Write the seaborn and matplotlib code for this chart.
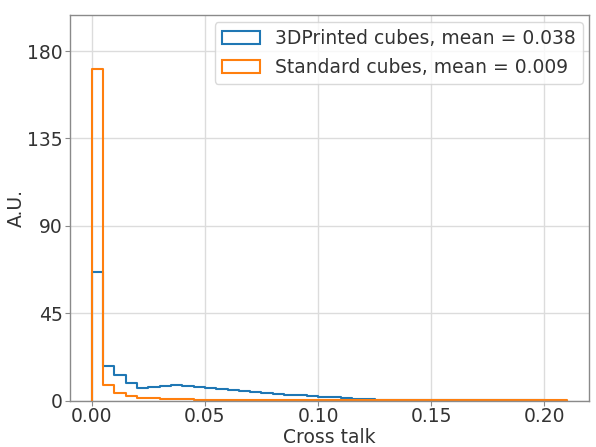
import numpy as np
import pandas as pd
import seaborn as sns
import matplotlib
matplotlib.use("Agg")
import matplotlib.pyplot as plt
from matplotlib.patches import Patch

# Histogram bins: width 0.005 from 0 to 0.21
bin_width = 0.005
bin_range = (0.0, 0.21)

# Normalised bin heights (A.U.) for each cube type
printed_heights = [
    66, 18, 13, 9, 6.5, 7, 7.5, 8, 7.5, 7,
    6.5, 6, 5.5, 5, 4.5, 4, 3.5, 3, 2.8, 2.4,
    2, 1.6, 1.3, 1, 0.8, 0.3, 0.25, 0.2, 0.2, 0.15,
    0.15, 0.1, 0.1, 0.1, 0.05, 0.05, 0.05, 0.05, 0.05, 0.05,
    0.0, 0.0,
]
standard_heights = [
    171, 8, 4, 2.5, 1.5, 1.2, 0.9, 0.7, 0.6, 0.5,
    0.4, 0.35, 0.3, 0.3, 0.25, 0.2, 0.2, 0.15, 0.15, 0.1,
    0.1, 0.1, 0.08, 0.08, 0.06, 0.05, 0.05, 0.05, 0.04, 0.04,
    0.03, 0.03, 0.03, 0.02, 0.02, 0.02, 0.02, 0.02, 0.01, 0.01,
    0.01, 0.01,
]
series_labels = ["3DPrinted cubes, mean = 0.038", "Standard cubes, mean = 0.009"]
series_colors = ["#1f77b4", "#ff7f0e"]

y_ticks = [0, 45, 90, 135, 180]
x_ticks = [0.0, 0.05, 0.10, 0.15, 0.20]

FS = 13.5

sns.set_theme(style="whitegrid", rc={
    "axes.edgecolor": "#8a8a8a",
    "grid.color": "#dcdcdc",
    "xtick.bottom": True,
    "ytick.left": True,
    "xtick.color": "#8a8a8a",
    "ytick.color": "#8a8a8a",
    "xtick.labelcolor": "#333333",
    "ytick.labelcolor": "#333333",
    "axes.labelcolor": "#333333",
    "text.color": "#333333",
})
plt.rcParams["font.family"] = ["DejaVu Sans"]

fig = plt.figure(figsize=(5.96, 4.47), dpi=100)
ax = fig.add_axes([0.117, 0.104, 0.872, 0.862])

n_bins = len(printed_heights)
centers = bin_range[0] + bin_width * (np.arange(n_bins) + 0.5)
frames = []
for label, heights in zip(series_labels, [printed_heights, standard_heights]):
    frames.append(pd.DataFrame({"x": centers, "w": heights, "series": label}))
df = pd.concat(frames, ignore_index=True)

for label, color in zip(series_labels, series_colors):
    sub = df[df["series"] == label]
    sns.histplot(data=sub, x="x", weights="w", binwidth=bin_width, binrange=bin_range,
                 element="step", fill=False, color=color, linewidth=1.5, ax=ax)
    # close the step outline down to the baseline at both ends
    line = ax.lines[-1]
    xd, yd = line.get_data()
    xd = np.asarray(xd, dtype=float)
    yd = np.asarray(yd, dtype=float)
    line.set_data(np.r_[xd[0], xd, xd[-1]], np.r_[0.0, yd, 0.0])

ax.set_xlim(-0.0097, 0.2199)
ax.set_ylim(0, 198.5)
ax.set_yticks(y_ticks)
ax.set_xticks(x_ticks)
ax.set_xticklabels([f"{t:.2f}" for t in x_ticks])
ax.tick_params(labelsize=FS, length=3.5, width=0.8, pad=1.5)
ax.set_xlabel("Cross talk", fontsize=FS, labelpad=1)
ax.set_ylabel("A.U.", fontsize=FS, labelpad=1)
for s in ax.spines.values():
    s.set_linewidth(1.0)

handles = [Patch(facecolor="none", edgecolor=c, linewidth=1.5) for c in series_colors]
ax.legend(handles, series_labels, loc="upper right", fontsize=FS,
          frameon=True, edgecolor="#d0d0d0", framealpha=0.8,
          borderaxespad=0.35, handlelength=2.0)

fig.savefig("out.png", dpi=100)
